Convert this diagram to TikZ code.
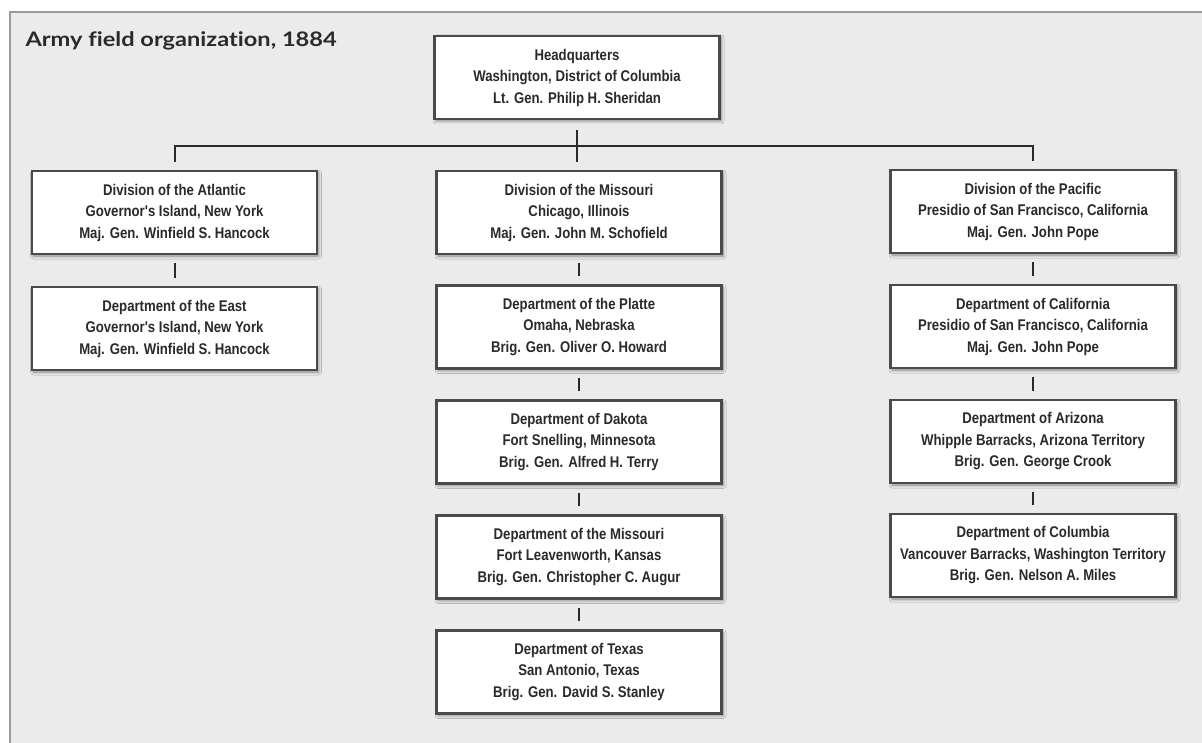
\documentclass[tikz,border=0pt]{standalone}
\usepackage{fontspec}
\usetikzlibrary{shadows.blur}
\newfontfamily\boxfont[FakeStretch=0.85]{Liberation Sans Bold}
\newfontfamily\titlefont[FakeStretch=1.18, Ligatures={NoCommon}]{Lato Bold}
\definecolor{paper}{HTML}{EBEBEB}
\definecolor{ink}{HTML}{2A2A2A}
\definecolor{edge}{HTML}{4A4A4A}
\definecolor{framec}{HTML}{9A9A9A}
\tikzset{
  unit/.style={draw=edge, line width=2.2pt, fill=white, minimum width=285pt, minimum height=83pt,
    inner sep=0pt, align=center, text=ink,
    font=\boxfont\fontsize{15.5}{21.5}\selectfont,
    blur shadow={shadow xshift=1.5pt, shadow yshift=-2pt, shadow blur radius=3pt, shadow blur steps=6, shadow opacity=45}},
  link/.style={draw=ink, line width=2pt},
}
\begin{document}
\begin{tikzpicture}[x=1pt,y=-1pt]
\useasboundingbox (0,0) rectangle (1202,743);
\fill[white] (0,0) rectangle (1202,743);
\fill[paper] (10,12) rectangle (1202,743);
\draw[framec, line width=1.5pt] (10,743) -- (10,12) -- (1202,12);
\node[anchor=base west, text=ink, font=\titlefont\fontsize{20}{24}\selectfont] (title) at (22,47) {Army field organization, 1884};

\node[unit] (hq) at (577,77.5) {Headquarters\\Washington, District of Columbia\\Lt. Gen. Philip H. Sheridan};

\node[unit] (atl) at (174.5,212.5) {Division of the Atlantic\\Governor's Island, New York\\Maj. Gen. Winfield S. Hancock};
\node[unit] (east) at (174.5,328.5) {Department of the East\\Governor's Island, New York\\Maj. Gen. Winfield S. Hancock};

\node[unit] (mo) at (579,212.5) {Division of the Missouri\\Chicago, Illinois\\Maj. Gen. John M. Schofield};
\node[unit] (platte) at (579,327) {Department of the Platte\\Omaha, Nebraska\\Brig. Gen. Oliver O. Howard};
\node[unit] (dakota) at (579,442) {Department of Dakota\\Fort Snelling, Minnesota\\Brig. Gen. Alfred H. Terry};
\node[unit] (dmo) at (579,557) {Department of the Missouri\\Fort Leavenworth, Kansas\\Brig. Gen. Christopher C. Augur};
\node[unit] (texas) at (579,672) {Department of Texas\\San Antonio, Texas\\Brig. Gen. David S. Stanley};

\node[unit] (pac) at (1033,211.5) {Division of the Pacific\\Presidio of San Francisco, California\\Maj. Gen. John Pope};
\node[unit] (cal) at (1033,326.5) {Department of California\\Presidio of San Francisco, California\\Maj. Gen. John Pope};
\node[unit] (ariz) at (1033,441.5) {Department of Arizona\\Whipple Barracks, Arizona Territory\\Brig. Gen. George Crook};
\node[unit] (col) at (1033,555.5) {Department of Columbia\\Vancouver Barracks, Washington Territory\\Brig. Gen. Nelson A. Miles};

% top bracket
\coordinate (bar) at (576,146);
\draw[link] ([yshift=-10pt]hq.south) -- ([yshift=8pt]mo.north -| hq.south);
\draw[link] ([yshift=8pt]atl.north) |- (bar) -| ([yshift=8pt]pac.north);

% stubs
\foreach \a/\b in {atl/east, mo/platte, platte/dakota, dakota/dmo, dmo/texas, pac/cal, cal/ariz, ariz/col}
  \draw[link] ([yshift=-8pt]\a.south) -- ([yshift=8pt]\b.north);
\end{tikzpicture}
\end{document}
